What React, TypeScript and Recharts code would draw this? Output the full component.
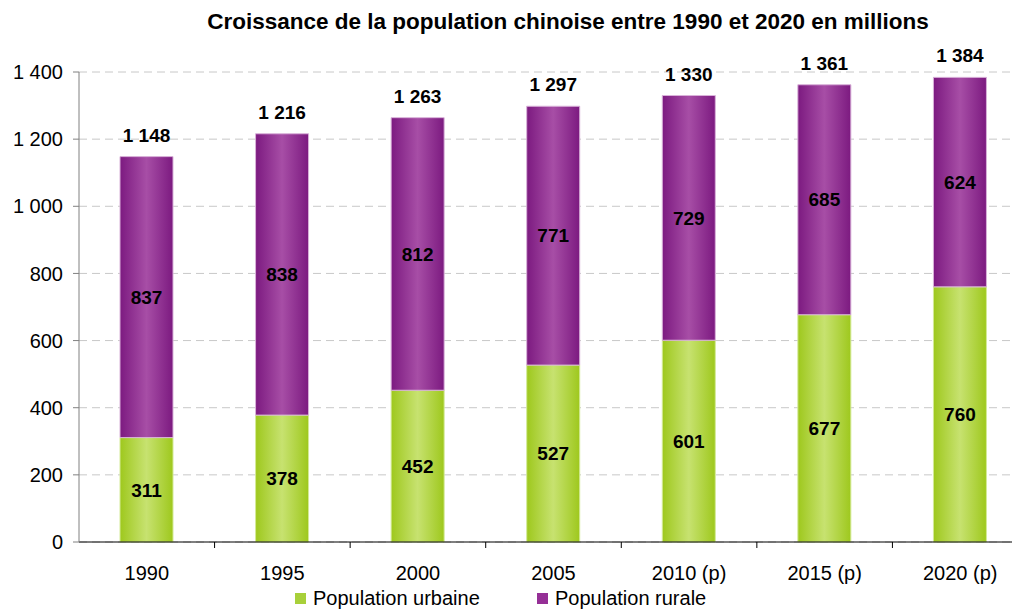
import React from 'react';
import { BarChart, Bar, XAxis, YAxis, CartesianGrid, LabelList } from 'recharts';

const years = ['1990', '1995', '2000', '2005', '2010 (p)', '2015 (p)', '2020 (p)'];
const urbaine = [311, 378, 452, 527, 601, 677, 760];
const rurale = [837, 838, 812, 771, 729, 685, 624];
const totals = [1148, 1216, 1263, 1297, 1330, 1361, 1384];
const yTicks = [0, 200, 400, 600, 800, 1000, 1200, 1400];

const data = years.map((year, i) => ({
  year,
  urbaine: urbaine[i],
  rurale: rurale[i],
  total: totals[i],
}));

const FONT = '"Liberation Sans", Arial, sans-serif';
const W = 1044;
const H = 610;
const LEFT = 79;
const RIGHT = 16;
const band = (W - LEFT - RIGHT) / years.length;

const fmt = (v: number) => String(v).replace(/\B(?=(\d{3})+(?!\d))/g, ' ');

function XTick(props: any) {
  const { x, y, payload } = props;
  return (
    <g>
      <line x1={x + band / 2} y1={y - 8} x2={x + band / 2} y2={y - 2} stroke="#000" />
      <text x={x} y={y + 30} textAnchor="middle" fontSize={20} fontFamily={FONT} fill="#000">
        {payload.value}
      </text>
    </g>
  );
}

export default function App() {
  return (
    <div style={{ position: 'relative', width: W, height: H, background: '#fff', fontFamily: FONT }}>
      <style>{'body{margin:0;overflow:hidden}'}</style>
      <div
        style={{
          position: 'absolute',
          top: 9,
          left: 0,
          width: 1136,
          textAlign: 'center',
          fontSize: 22.5,
          fontWeight: 'bold',
          color: '#000',
        }}
      >
        Croissance de la population chinoise entre 1990 et 2020 en millions
      </div>
      <BarChart
        width={W}
        height={H}
        data={data}
        margin={{ top: 72, right: RIGHT, bottom: 38, left: 0 }}
        barSize={53}
      >
        <defs>
          <linearGradient id="gGreen" x1="0" y1="0" x2="1" y2="0">
            <stop offset="0%" stopColor="#9ec81d" />
            <stop offset="50%" stopColor="#c7e270" />
            <stop offset="100%" stopColor="#9ec81d" />
          </linearGradient>
          <linearGradient id="gPurple" x1="0" y1="0" x2="1" y2="0">
            <stop offset="0%" stopColor="#7c1a80" />
            <stop offset="50%" stopColor="#a74ea6" />
            <stop offset="100%" stopColor="#7c1a80" />
          </linearGradient>
        </defs>
        <CartesianGrid vertical={false} stroke="#c8c8c8" strokeDasharray="8 5" />
        <XAxis
          dataKey="year"
          height={30}
          stroke="#000"
          tickLine={false}
          tick={<XTick />}
          interval={0}
        />
        <YAxis
          width={LEFT}
          domain={[0, 1400]}
          ticks={yTicks}
          tickFormatter={fmt}
          stroke="#808080"
          tickSize={6}
          tickMargin={10}
          tick={{ fontSize: 20, fill: '#000', fontFamily: FONT }}
        />
        <Bar dataKey="urbaine" stackId="a" fill="url(#gGreen)" stroke="#d4ea98" strokeWidth={1} isAnimationActive={false}>
          <LabelList dataKey="urbaine" position="center" fill="#000" fontSize={19} fontWeight="bold" fontFamily={FONT} />
        </Bar>
        <Bar dataKey="rurale" stackId="a" fill="url(#gPurple)" stroke="#d9b2d9" strokeWidth={1} isAnimationActive={false}>
          <LabelList dataKey="rurale" position="center" fill="#000" fontSize={19} fontWeight="bold" fontFamily={FONT} />
          <LabelList
            dataKey="total"
            position="top"
            offset={15}
            formatter={(v: any) => fmt(v)}
            fill="#000"
            fontSize={19}
            fontWeight="bold"
            fontFamily={FONT}
          />
        </Bar>
      </BarChart>
      <div style={{ position: 'absolute', top: 587, left: 295, fontSize: 20, color: '#000', display: 'flex' }}>
        <div style={{ display: 'flex', alignItems: 'center', width: 242 }}>
          <span style={{ width: 11, height: 11, background: '#a8d03a', marginRight: 7, display: 'inline-block' }} />
          Population urbaine
        </div>
        <div style={{ display: 'flex', alignItems: 'center' }}>
          <span style={{ width: 11, height: 11, background: '#952f96', marginRight: 7, display: 'inline-block' }} />
          Population rurale
        </div>
      </div>
    </div>
  );
}
